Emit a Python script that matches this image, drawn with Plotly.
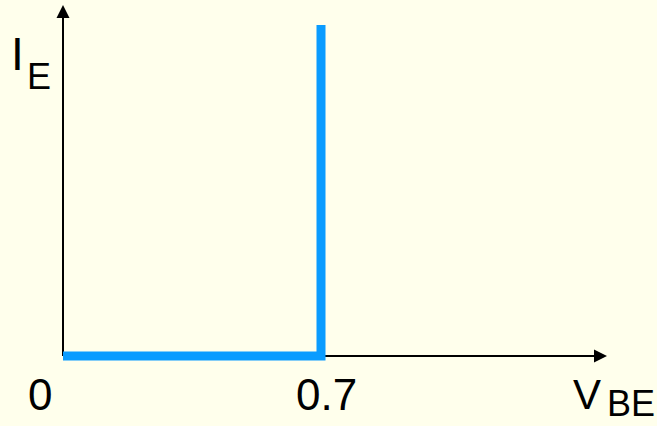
import plotly.graph_objects as go

# Data: idealised diode (base-emitter) characteristic
vbe = [0.0, 0.7, 0.7]
ie = [0.0, 0.0, 1.0]
x_tick_labels = ["0", "0.7"]
x_axis_label = "V"
x_axis_sub = "BE"
y_axis_label = "I"
y_axis_sub = "E"

W, H = 657, 426
x0px, x07px = 63, 321
xs = (x07px - x0px) / 0.7
xr = [-x0px / xs, (W - x0px) / xs]
y0px, y1px = 356, 25
ys = (y0px - y1px) / 1.0
yr = [(y0px - H) / ys, y0px / ys]

def px2x(p):
    return (p - x0px) / xs

def px2y(p):
    return (y0px - p) / ys

BG = "#FFFFEC"
fig = go.Figure()
fig.add_trace(go.Scatter(x=[0, 0], y=[0, px2y(12)], mode="lines",
                         line=dict(color="black", width=2), hoverinfo="skip", showlegend=False))
fig.add_trace(go.Scatter(x=[0, px2x(600)], y=[0, 0], mode="lines",
                         line=dict(color="black", width=2), hoverinfo="skip", showlegend=False))
fig.add_trace(go.Scatter(x=vbe, y=ie, mode="lines",
                         line=dict(color="#0A9CFF", width=9), hoverinfo="skip", showlegend=False))

ann = []
ann.append(dict(x=0, y=px2y(5), ax=0, ay=px2y(40), xref="x", yref="y", axref="x", ayref="y",
                showarrow=True, arrowhead=2, arrowsize=1.3, arrowwidth=2, arrowcolor="black", text=""))
ann.append(dict(x=px2x(607), y=0, ax=px2x(570), ay=0, xref="x", yref="y", axref="x", ayref="y",
                showarrow=True, arrowhead=2, arrowsize=1.3, arrowwidth=2, arrowcolor="black", text=""))

font = "Liberation Sans, Arial, sans-serif"
def txt(t, cx, cy, size, xa="center", ya="middle"):
    return dict(text=t, x=cx / W, y=1 - cy / H, xref="paper", yref="paper", showarrow=False,
                xanchor=xa, yanchor=ya, font=dict(family=font, size=size, color="black"))

ann.append(txt(y_axis_label, 17, 54, 46))
ann.append(txt(y_axis_sub, 39, 76, 36))
ann.append(txt(x_tick_labels[0], 40, 394, 44))
ann.append(txt(x_tick_labels[1], 326, 394, 44))
ann.append(txt(x_axis_label, 587, 394, 42))
ann.append(txt(x_axis_sub, 657, 426, 36, xa="right", ya="bottom"))

fig.update_layout(
    width=W, height=H, margin=dict(l=0, r=0, t=0, b=0),
    paper_bgcolor=BG, plot_bgcolor=BG,
    xaxis=dict(range=xr, visible=False, fixedrange=True),
    yaxis=dict(range=yr, visible=False, fixedrange=True),
    annotations=ann, showlegend=False,
)
fig.write_html("out.html", config={"displayModeBar": False},
               post_script="document.body.style.margin='0';document.body.style.overflow='hidden';")
